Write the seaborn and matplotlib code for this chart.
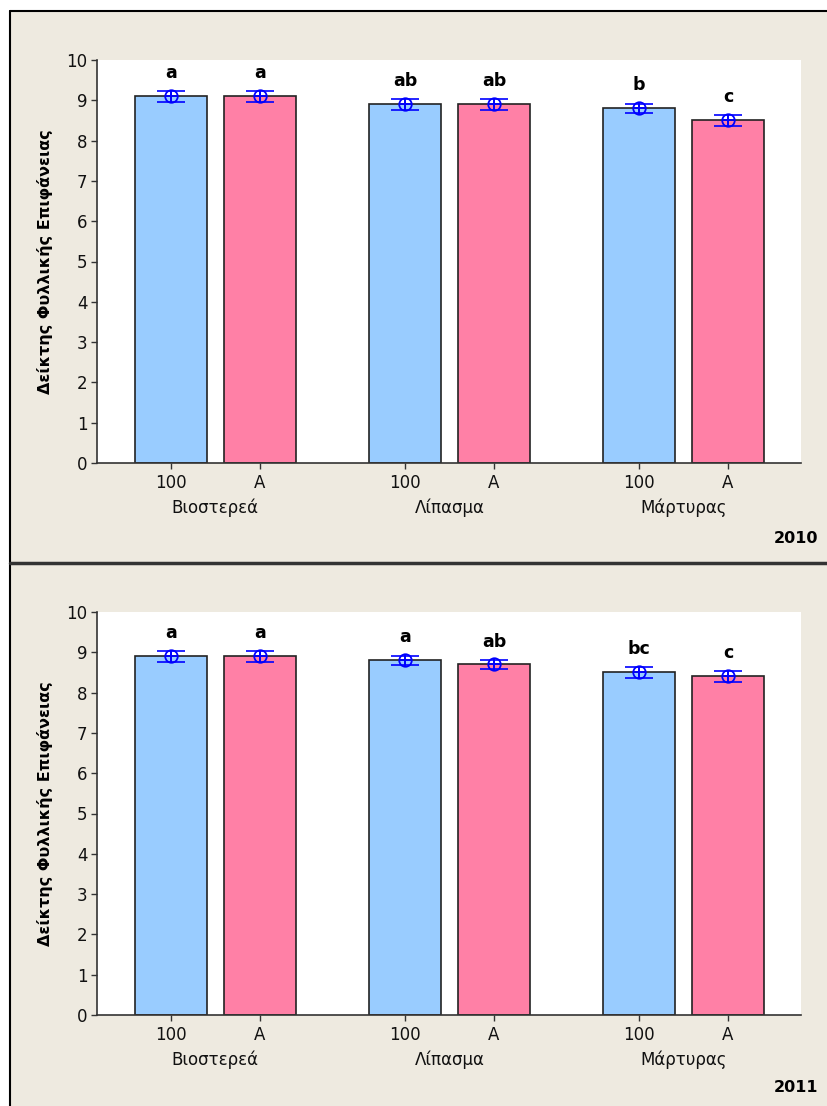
import numpy as np
import pandas as pd
import matplotlib
matplotlib.use("Agg")
import matplotlib.pyplot as plt
from matplotlib.patches import Rectangle
from matplotlib.lines import Line2D
import seaborn as sns

# ---------------- data ----------------
groups = ["Βιοστερεά", "Λίπασμα", "Μάρτυρας"]
doses = ["100", "A"]
years = ["2010", "2011"]

values_2010 = [9.1, 9.1, 8.9, 8.9, 8.8, 8.5]
errors_2010 = [0.13, 0.13, 0.13, 0.13, 0.12, 0.14]
letters_2010 = ["a", "a", "ab", "ab", "b", "c"]

values_2011 = [8.9, 8.9, 8.8, 8.7, 8.5, 8.4]
errors_2011 = [0.13, 0.13, 0.12, 0.12, 0.13, 0.13]
letters_2011 = ["a", "a", "a", "ab", "bc", "c"]

ylabel = "Δείκτης Φυλλικής Επιφάνειας"
yticks = list(range(0, 11))

# ---------------- style ----------------
sns.set_style("ticks")
plt.rcParams["font.family"] = ["DejaVu Sans"]

BG = "#EEEAE0"
BLUE = "#99CCFF"
PINK = "#FF80A6"
SPINE = "#333333"
GAP = 2.63  # spacing between group centres (within-group spacing = 1)

fig = plt.figure(figsize=(8.28, 11.06), dpi=100)
fig.patch.set_facecolor("white")

W, H = 828.0, 1106.0
# panel backgrounds
fig.add_artist(Rectangle((10 / W, 0), 1, (H - 11) / H, transform=fig.transFigure,
                         facecolor=BG, edgecolor="none", zorder=-10))
# borders
fig.add_artist(Line2D([10 / W, 1], [(H - 11) / H] * 2, transform=fig.transFigure,
                      color="black", lw=1.5))
fig.add_artist(Line2D([10 / W] * 2, [0, (H - 11) / H], transform=fig.transFigure,
                      color="black", lw=1.5))
fig.add_artist(Line2D([10 / W, 1], [(H - 563) / H] * 2, transform=fig.transFigure,
                      color="#333333", lw=2.5))

ax_rects = [
    [97 / W, 1 - 463 / H, (801 - 97) / W, 403 / H],
    [97 / W, 1 - 1015 / H, (801 - 97) / W, 403 / H],
]
year_y = [1 - 539 / H, 1 - 1088 / H]

datasets = [
    (values_2010, errors_2010, letters_2010),
    (values_2011, errors_2011, letters_2011),
]

for k, (vals, errs, lets) in enumerate(datasets):
    ax = fig.add_axes(ax_rects[k])
    ax.set_facecolor("white")

    rows = []
    for g, grp in enumerate(groups):
        for j, d in enumerate(doses):
            idx = g * len(doses) + j
            rows.append({"pos": g * GAP + j, "group": grp, "dose": d,
                         "value": vals[idx], "err": errs[idx], "letter": lets[idx]})
    df = pd.DataFrame(rows)

    sns.barplot(data=df, x="pos", y="value", hue="dose", native_scale=True,
                dodge=False, width=0.81, palette={"100": BLUE, "A": PINK},
                saturation=1, edgecolor="#222222", linewidth=1.2, errorbar=None,
                legend=False, ax=ax, zorder=2)

    ax.errorbar(df["pos"], df["value"], yerr=df["err"], fmt="none",
                ecolor="#0000FF", elinewidth=1.2, capsize=10.4, capthick=1.2, zorder=4)
    ax.plot(df["pos"], df["value"], ls="none", marker="o", ms=9, mfc="none",
            mec="#0000FF", mew=1.3, zorder=5)
    ax.plot(df["pos"], df["value"], ls="none", marker="+", ms=9,
            mec="#0000FF", mew=1.3, zorder=5)

    for _, r in df.iterrows():
        ax.annotate(r["letter"], (r["pos"], r["value"] + r["err"]),
                    xytext=(0, 6.5), textcoords="offset points",
                    ha="center", va="bottom", fontsize=12.5, fontweight="bold",
                    color="black")

    ax.set_xlim(-0.83, 2 * GAP + 1 + 0.82)
    ax.set_ylim(0, 10)
    ax.set_yticks(yticks)
    ax.set_yticklabels([str(t) for t in yticks], fontsize=12, color="#111111")
    ax.set_xticks(df["pos"].tolist())
    ax.set_xticklabels(df["dose"].tolist(), fontsize=12, color="#111111")
    ax.set_xlabel("")
    ax.set_ylabel(ylabel, fontsize=11.5, fontweight="bold", color="black")
    ax.yaxis.set_label_coords(-0.062, 0.5)

    ax.tick_params(axis="both", direction="out", length=4.5, width=1, color=SPINE)
    ax.tick_params(axis="y", pad=2.5)
    ax.tick_params(axis="x", pad=3.5)

    for s in ["top", "right"]:
        ax.spines[s].set_visible(False)
    for s in ["left", "bottom"]:
        ax.spines[s].set_color(SPINE)
        ax.spines[s].set_linewidth(1.2)

    for g, grp in enumerate(groups):
        ax.annotate(grp, (g * GAP + 0.5, 0), xycoords=("data", "axes fraction"),
                    xytext=(0, -32.4), textcoords="offset points",
                    ha="center", va="center", fontsize=12, color="#111111")

    fig.text(818 / W, year_y[k], years[k], ha="right", va="center",
             fontsize=11.5, fontweight="bold", color="black")

fig.savefig("out.png", dpi=100, facecolor=fig.get_facecolor())
